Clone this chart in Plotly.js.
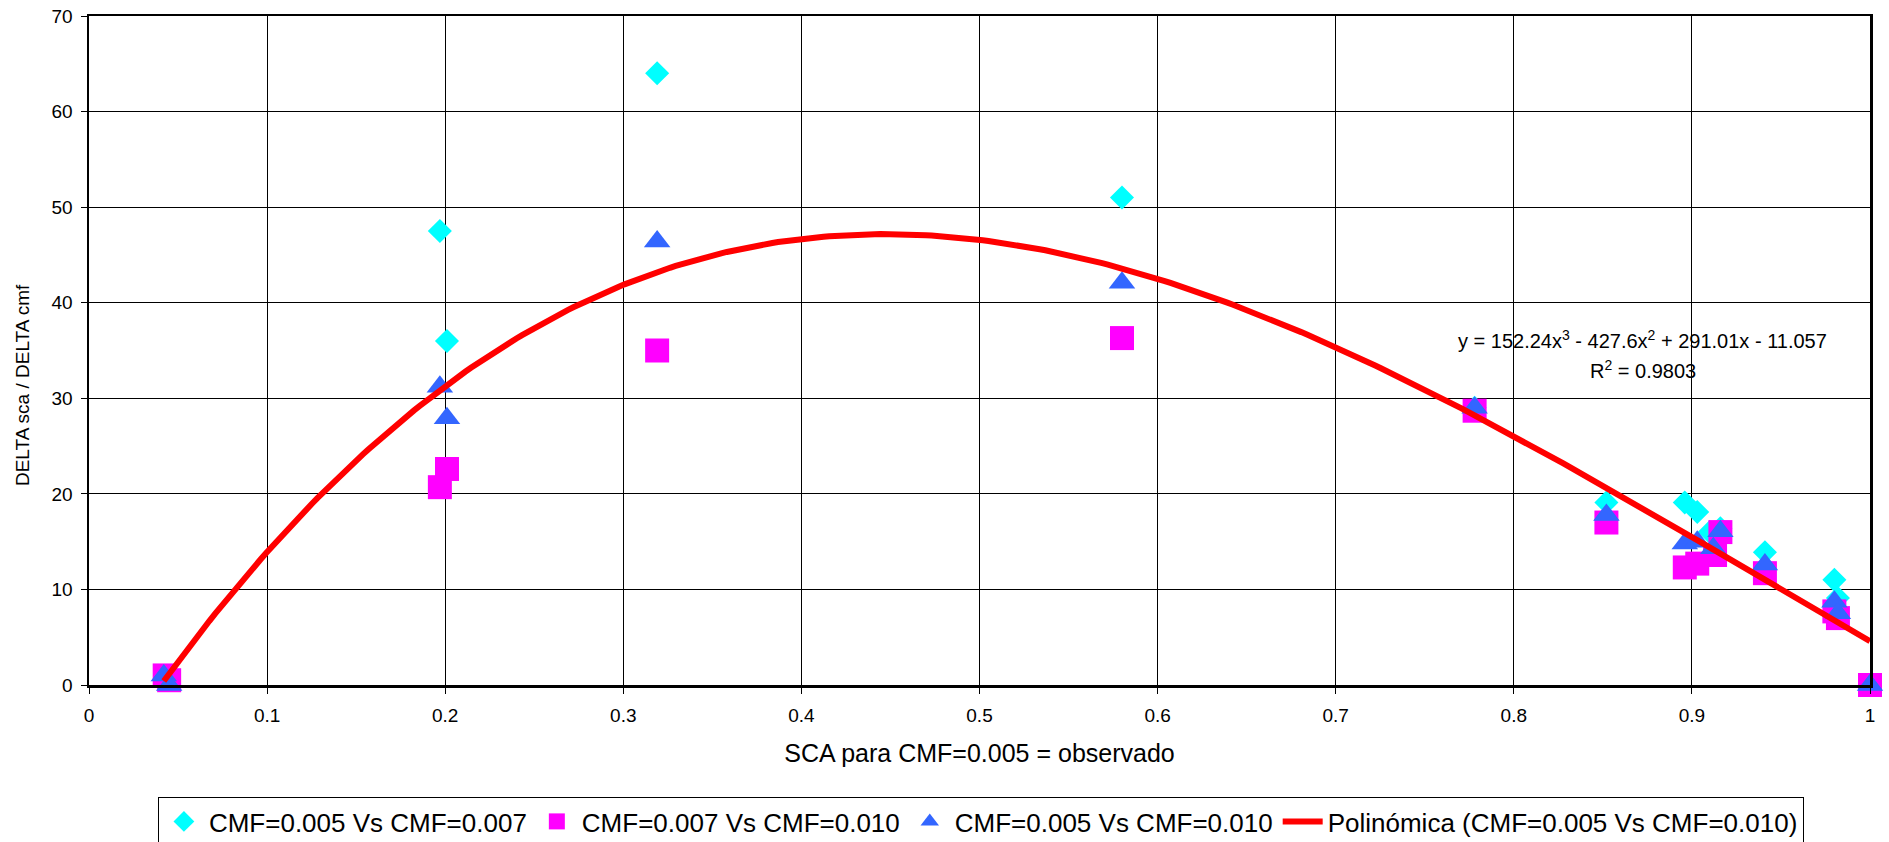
<!DOCTYPE html>
<html>
<head>
<meta charset="utf-8">
<script src="https://cdn.plot.ly/plotly-3.0.1.min.js"></script>
<style>
  html, body { margin: 0; padding: 0; background: #ffffff; }
  #chart { width: 1889px; height: 842px; }
</style>
</head>
<body>
<div id="chart"></div>
<script>
// ---- Data ----
const seriesNames = [
  "CMF=0.005 Vs CMF=0.007",
  "CMF=0.007 Vs CMF=0.010",
  "CMF=0.005 Vs CMF=0.010",
  "Polinómica (CMF=0.005 Vs CMF=0.010)"
];

const cyanX = [0.197, 0.201, 0.319, 0.580, 0.778, 0.852, 0.896, 0.903, 0.910, 0.916, 0.941, 0.980, 0.982];
const cyanY = [47.5, 36.0, 64.0, 51.0, 29.0, 19.1, 19.1, 18.1, 16.0, 16.4, 13.9, 11.0, 9.1];

const magentaX = [0.0425, 0.045, 0.197, 0.201, 0.319, 0.580, 0.778, 0.852, 0.896, 0.903, 0.913, 0.916, 0.941, 0.980, 0.982, 1.000];
const magentaY = [1.0, 0.5, 20.7, 22.6, 35.0, 36.3, 28.7, 17.0, 12.3, 12.7, 13.6, 16.0, 11.7, 7.7, 7.0, 0.0];

const blueX = [0.042, 0.045, 0.197, 0.201, 0.319, 0.580, 0.778, 0.852, 0.896, 0.903, 0.912, 0.916, 0.941, 0.980, 0.982, 1.000];
const blueY = [1.0, 0.0, 31.2, 27.9, 46.4, 42.1, 29.0, 17.8, 14.8, 15.0, 14.3, 16.1, 12.6, 8.7, 7.5, 0.0];

// Trendline coefficients as printed on the chart (cubic, highest power first)
const trendCoeffs = [152.24, -427.6, 291.01, -11.057];
const trendRange = [0.042, 1.0];

const xTickVals = [0, 0.1, 0.2, 0.3, 0.4, 0.5, 0.6, 0.7, 0.8, 0.9, 1];
const xTickText = ["0", "0.1", "0.2", "0.3", "0.4", "0.5", "0.6", "0.7", "0.8", "0.9", "1"];
const yTickVals = [0, 10, 20, 30, 40, 50, 60, 70];

const xTitle = "SCA para CMF=0.005 = observado";
const yTitle = "DELTA sca / DELTA cmf";
const equationText = "y = 152.24x<sup>3</sup> - 427.6x<sup>2</sup> + 291.01x - 11.057";
const r2Text = "R<sup>2</sup> = 0.9803";

// ---- Trendline evaluated from its printed coefficients ----
const trendX = [];
const trendY = [];
const nSteps = 300;
for (let i = 0; i <= nSteps; i++) {
  const x = trendRange[0] + (trendRange[1] - trendRange[0]) * i / nSteps;
  let y = 0;
  for (let k = 0; k < trendCoeffs.length; k++) y = y * x + trendCoeffs[k];
  trendX.push(x);
  trendY.push(y);
}

const FONT = "Liberation Sans, Arial, sans-serif";

const traces = [
  {
    type: "scatter", mode: "markers", name: seriesNames[0],
    x: cyanX, y: cyanY, cliponaxis: false,
    marker: { symbol: "diamond", size: 18.5, color: "#00FFFF", line: { width: 0 } }
  },
  {
    type: "scatter", mode: "markers", name: seriesNames[1],
    x: magentaX, y: magentaY, cliponaxis: false,
    marker: { symbol: "square", size: 24, color: "#FF00FF", line: { width: 0 } }
  },
  {
    type: "scatter", mode: "markers", name: seriesNames[2],
    x: blueX, y: blueY, cliponaxis: false,
    marker: { symbol: "triangle-up", size: 23, color: "#3366FF", line: { width: 0 } }
  },
  {
    type: "scatter", mode: "lines", name: seriesNames[3],
    x: trendX, y: trendY, cliponaxis: false,
    line: { color: "#FF0000", width: 6 }
  }
];

const layout = {
  width: 1889, height: 842,
  paper_bgcolor: "#ffffff", plot_bgcolor: "#ffffff",
  margin: { l: 89, r: 19, t: 16, b: 157, pad: 0, autoexpand: false },
  font: { family: FONT, color: "#000000", size: 19 },
  showlegend: true,
  xaxis: {
    range: [0, 1], tickvals: xTickVals, ticktext: xTickText,
    showgrid: true, gridcolor: "#000000", gridwidth: 1,
    zeroline: false,
    showline: true, linecolor: "#000000", linewidth: 2.5, mirror: true,
    ticks: "outside", ticklen: 6, tickwidth: 1, tickcolor: "#000000",
    ticklabelstandoff: 6,
    tickfont: { family: FONT, size: 19, color: "#000000" },
    title: { text: xTitle, font: { family: FONT, size: 25, color: "#000000" }, standoff: 19 },
    automargin: false,
    fixedrange: true
  },
  yaxis: {
    range: [0, 70], tickvals: yTickVals,
    showgrid: true, gridcolor: "#000000", gridwidth: 1,
    zeroline: false,
    showline: true, linecolor: "#000000", linewidth: 2.5, mirror: true,
    ticks: "outside", ticklen: 6, tickwidth: 1, tickcolor: "#000000",
    ticklabelstandoff: 4,
    tickfont: { family: FONT, size: 19, color: "#000000" },
    automargin: false,
    fixedrange: true
  },
  legend: {
    orientation: "h",
    x: 0.5008, xanchor: "center",
    y: -0.1674, yanchor: "top",
    bordercolor: "#000000", borderwidth: 1,
    bgcolor: "#ffffff",
    itemwidth: 40,
    font: { family: FONT, size: 26, color: "#000000" },
    itemsizing: "trace"
  },
  annotations: [
    {
      xref: "paper", yref: "paper", x: -0.0376, y: 0.4484,
      text: yTitle, showarrow: false, textangle: -90,
      xanchor: "center", yanchor: "middle",
      font: { family: FONT, size: 19, color: "#000000" }
    },
    {
      xref: "x", yref: "y", x: 0.8725, y: 36.1,
      text: equationText, showarrow: false,
      xanchor: "center", yanchor: "middle",
      font: { family: FONT, size: 20, color: "#000000" }
    },
    {
      xref: "x", yref: "y", x: 0.8725, y: 33.0,
      text: r2Text, showarrow: false,
      xanchor: "center", yanchor: "middle",
      font: { family: FONT, size: 20, color: "#000000" }
    }
  ]
};

Plotly.newPlot("chart", traces, layout, { displayModeBar: false, staticPlot: true });
</script>
</body>
</html>
